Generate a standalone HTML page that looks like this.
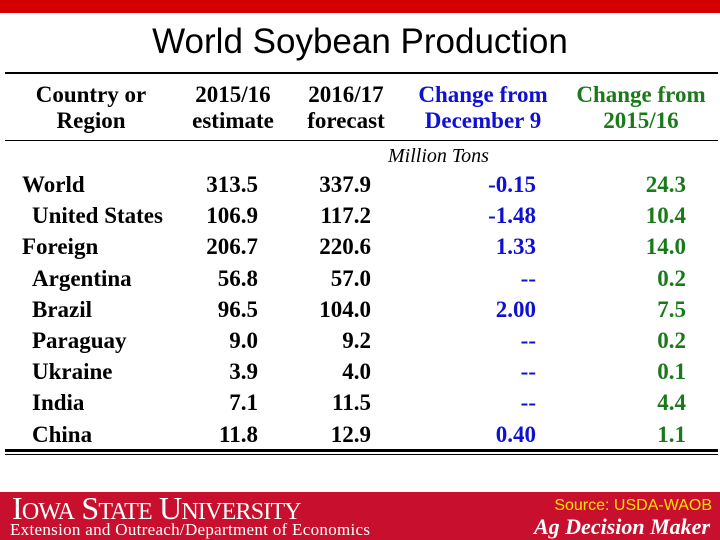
<!DOCTYPE html>
<html><head><meta charset="utf-8"><style>
body{margin:0;width:720px;height:540px;position:relative;background:#fff;overflow:hidden;font-family:"Liberation Serif",serif}
.a{position:absolute;white-space:nowrap}
.b{font-weight:bold;font-size:23px;line-height:26px}
.r{text-align:right}
.c{text-align:center}
.blue{color:#1010d0}.green{color:#1a7a1a}
.line{position:absolute;background:#000;left:5px;width:713px}
</style></head><body>
<div class="a" style="left:0;top:0;width:720px;height:13px;background:#d40000"></div>
<div class="a c" style="left:0;top:21px;width:720px;font-family:'Liberation Sans',sans-serif;font-size:35px;line-height:42px">World Soybean Production</div>
<div class="line" style="top:72px;height:2px"></div>
<div class="line" style="top:140px;height:1px"></div>
<div class="line" style="top:449px;height:3px"></div>
<div class="line" style="top:454px;height:1px"></div>
<div class="a b c" style="left:20px;top:82px;width:142px">Country or<br>Region</div>
<div class="a b c" style="left:180px;top:82px;width:106px">2015/16<br>estimate</div>
<div class="a b c" style="left:296px;top:82px;width:100px">2016/17<br>forecast</div>
<div class="a b c blue" style="left:408px;top:82px;width:150px">Change from<br>December 9</div>
<div class="a b c green" style="left:566px;top:82px;width:150px">Change from<br>2015/16</div>
<div class="a" style="left:388px;top:145px;font-style:italic;font-size:20px">Million Tons</div>
<div id="rows"></div>
<div class="a" style="left:0;top:492px;width:720px;height:48px;background:#c8102e"></div>
<div class="a" style="left:12px;top:490px;color:#fff;font-size:32px;line-height:36px;letter-spacing:-0.8px">I<span style="font-size:24px">OWA</span> S<span style="font-size:24px">TATE</span> U<span style="font-size:24px">NIVERSITY</span></div>
<div class="a" style="left:10px;top:521px;color:#fff;font-size:17px;line-height:18px;letter-spacing:0.3px">Extension and Outreach/Department of Economics</div>
<div class="a r" style="right:8px;top:496px;color:#ffe000;font-family:'Liberation Sans',sans-serif;font-size:16px;line-height:20px">Source: USDA-WAOB</div>
<div class="a r" style="right:10px;top:514px;color:#fff;font-style:italic;font-weight:bold;font-size:22px;line-height:26px">Ag Decision Maker</div>
<script>
const regions=["World","United States","Foreign","Argentina","Brazil","Paraguay","Ukraine","India","China"];
const indent=[0,1,0,1,1,1,1,1,1];
const est2015=["313.5","106.9","206.7","56.8","96.5","9.0","3.9","7.1","11.8"];
const fc2016=["337.9","117.2","220.6","57.0","104.0","9.2","4.0","11.5","12.9"];
const chgDec=["-0.15","-1.48","1.33","--","2.00","--","--","--","0.40"];
const chgYear=["24.3","10.4","14.0","0.2","7.5","0.2","0.1","4.4","1.1"];
const host=document.getElementById('rows');
regions.forEach((r,i)=>{
  const top=172+i*31.2;
  const cells=[[r,indent[i]?32:22,null,''],[est2015[i],null,258,''],[fc2016[i],null,371,''],[chgDec[i],null,536,'blue'],[chgYear[i],null,686,'green']];
  const names=['region-label','estimate-2015','forecast-2016','change-dec','change-year'];
  cells.forEach((c,j)=>{
    const d=document.createElement('div');
    d.className='a b '+c[3];
    d.style.top=top+'px';
    if(c[1]!==null)d.style.left=c[1]+'px';else{d.style.right=(720-c[2])+'px';}
    d.textContent=c[0];
    
    
    host.appendChild(d);
  });
});
</script>
</body></html>
